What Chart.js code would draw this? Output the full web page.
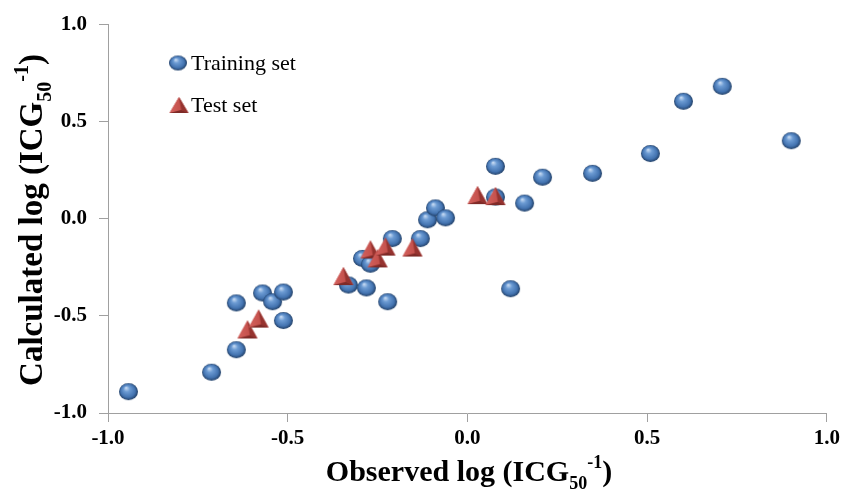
<!DOCTYPE html>
<html><head><meta charset="utf-8">
<script src="https://cdn.jsdelivr.net/npm/chart.js@4.4.1/dist/chart.umd.min.js"></script>
<style>html,body{margin:0;padding:0;background:#fff;overflow:hidden;}#wrap{width:844px;height:491px;}</style>
</head><body><div id="wrap"><canvas id="c" width="844" height="491"></canvas></div>
<script>
// ---- data ----
const trainObserved   = [-0.943,-0.712,-0.643,-0.643,-0.570,-0.542,-0.512,-0.512,-0.331,-0.281,-0.222,-0.292,-0.270,-0.209,-0.131,-0.111,-0.089,-0.061,0.078,0.078,0.120,0.159,0.209,0.348,0.509,0.601,0.709,0.901];
const trainCalculated = [-0.890,-0.790,-0.674,-0.433,-0.382,-0.427,-0.377,-0.524,-0.341,-0.356,-0.427,-0.204,-0.234,-0.102,-0.102,-0.005,0.056,0.005,0.112,0.270,-0.360,0.081,0.214,0.234,0.336,0.605,0.682,0.402];
const testObserved    = [-0.612,-0.581,-0.345,-0.270,-0.250,-0.228,-0.153,0.028,0.078];
const testCalculated  = [-0.570,-0.514,-0.295,-0.158,-0.204,-0.143,-0.148,0.122,0.117];
const xTickValues = [-1.0,-0.5,0.0,0.5,1.0];
const yTickValues = [-1.0,-0.5,0.0,0.5,1.0];
const seriesNames = ['Training set','Test set'];
const xTitleParts = ['Observed log (ICG','50','-1',')'];
const yTitleParts = ['Calculated log (ICG','50','-1',')'];

// ---- marker images ----
function makeSphere(w,h){
  const c=document.createElement('canvas'); c.width=w+2; c.height=h+2;
  const g=c.getContext('2d');
  g.translate(c.width/2,c.height/2); g.scale(1,h/w);
  const r=w/2;
  const grad=g.createRadialGradient(-r*0.25,-r*0.45,r*0.05,0,0,r);
  grad.addColorStop(0,'#c3d8f2');
  grad.addColorStop(0.3,'#6c9bd3');
  grad.addColorStop(0.75,'#4373b0');
  grad.addColorStop(1,'#213f66');
  g.fillStyle=grad; g.beginPath(); g.arc(0,0,r,0,Math.PI*2); g.fill();
  return c;
}
function makePyramid(w,h){
  const c=document.createElement('canvas'); c.width=w+2; c.height=h+2;
  const g=c.getContext('2d');
  g.translate(1,1);
  g.fillStyle='#c0504d';
  g.beginPath(); g.moveTo(w/2,0); g.lineTo(w,h); g.lineTo(0,h); g.closePath(); g.fill();
  const lg=g.createLinearGradient(0,0,w,0);
  lg.addColorStop(0,'#d4625e'); lg.addColorStop(1,'#b9443f');
  g.fillStyle=lg;
  g.beginPath(); g.moveTo(w/2,0); g.lineTo(w*0.62,h*0.82); g.lineTo(0,h); g.closePath(); g.fill();
  g.fillStyle='#96332f';
  g.beginPath(); g.moveTo(w/2,0); g.lineTo(w,h); g.lineTo(w*0.62,h*0.82); g.closePath(); g.fill();
  g.fillStyle='#7e2a27';
  g.beginPath(); g.moveTo(0,h); g.lineTo(w*0.62,h*0.82); g.lineTo(w,h); g.closePath(); g.fill();
  return c;
}
const sphere = makeSphere(19,17);
const pyramid = makePyramid(20,18);
const sphereL = makeSphere(18,15);
const pyramidL = makePyramid(19,16);

// ---- rich text helper ----
function drawRich(ctx, parts, size, subSize){
  const fam='"Liberation Serif","Times New Roman",serif';
  const segs=[
    {t:parts[0],f:'bold '+size+'px '+fam,dy:0},
    {t:parts[1],f:'bold '+subSize+'px '+fam,dy:Math.round(size*0.26)},
    {t:parts[2],f:'bold '+subSize+'px '+fam,dy:-Math.round(size*0.42)},
    {t:parts[3],f:'bold '+size+'px '+fam,dy:0}
  ];
  let total=0;
  segs.forEach(s=>{ctx.font=s.f; s.w=ctx.measureText(s.t).width; total+=s.w;});
  let x=-total/2;
  ctx.textBaseline='alphabetic'; ctx.textAlign='left'; ctx.fillStyle='#000';
  segs.forEach(s=>{ctx.font=s.f; ctx.fillText(s.t,x,s.dy); x+=s.w;});
}

const decor = {
  id:'decor',
  afterDraw(chart){
    const ctx=chart.ctx;
    ctx.save(); ctx.translate(469,481); drawRich(ctx,xTitleParts,30,18); ctx.restore();
    ctx.save(); ctx.translate(42,220); ctx.rotate(-Math.PI/2); drawRich(ctx,yTitleParts,33,20); ctx.restore();
    ctx.save();
    ctx.font='22px "Liberation Serif","Times New Roman",serif';
    ctx.fillStyle='#000'; ctx.textBaseline='alphabetic'; ctx.textAlign='left';
    ctx.drawImage(sphereL,178-sphereL.width/2,63-sphereL.height/2);
    ctx.fillText(seriesNames[0],191,70);
    ctx.drawImage(pyramidL,179-pyramidL.width/2,105-pyramidL.height/2);
    ctx.fillText(seriesNames[1],191,112);
    ctx.restore();
  }
};

const tickFont={family:'"Liberation Serif","Times New Roman",serif',size:21,weight:'bold'};
const axisColor='#a0a0a0';

new Chart(document.getElementById('c'),{
  type:'scatter',
  data:{datasets:[
    {label:seriesNames[1],data:testObserved.map((x,i)=>({x:x,y:testCalculated[i]})),pointStyle:pyramid,pointRadius:9,order:0},
    {label:seriesNames[0],data:trainObserved.map((x,i)=>({x:x,y:trainCalculated[i]})),pointStyle:sphere,pointRadius:9,order:1}
  ]},
  options:{
    responsive:false, animation:false, devicePixelRatio:1,
    layout:{padding:{top:20,right:17,left:0,bottom:0}},
    plugins:{legend:{display:false},tooltip:{enabled:false}},
    scales:{
      x:{type:'linear',min:-1,max:1,
        afterBuildTicks:s=>{s.ticks=xTickValues.map(v=>({value:v}));},
        afterFit:s=>{s.height=78;},
        ticks:{callback:v=>Number(v).toFixed(1),font:tickFont,color:'#000',padding:4,maxRotation:0,autoSkip:false},
        grid:{drawOnChartArea:false,drawTicks:true,tickLength:9,color:axisColor},
        border:{color:axisColor,width:1}},
      y:{type:'linear',min:-1,max:1,
        afterBuildTicks:s=>{s.ticks=yTickValues.map(v=>({value:v}));},
        afterFit:s=>{s.width=108;},
        ticks:{callback:v=>Number(v).toFixed(1),font:tickFont,color:'#000',padding:12,autoSkip:false},
        grid:{drawOnChartArea:false,drawTicks:true,tickLength:9,color:axisColor},
        border:{color:axisColor,width:1}}
    }
  },
  plugins:[decor]
});
</script></body></html>
